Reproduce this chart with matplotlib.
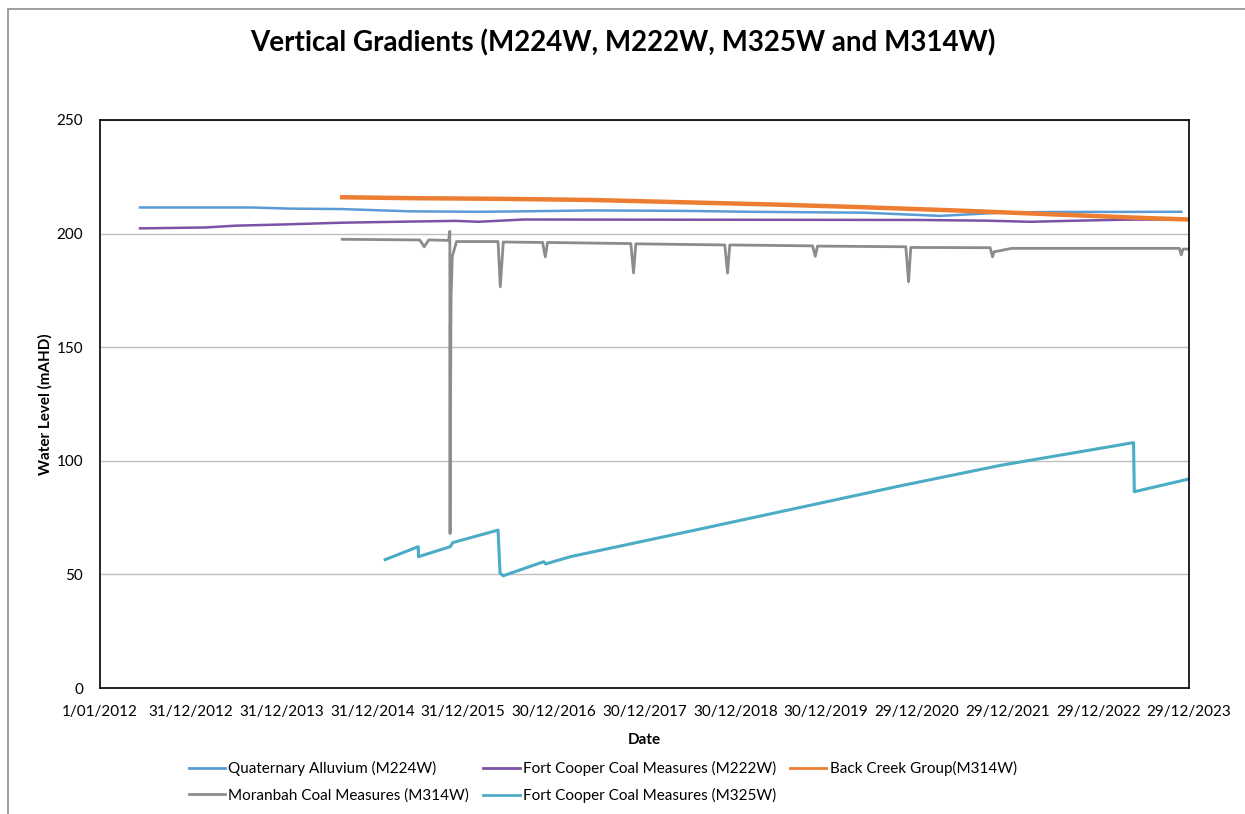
import matplotlib
matplotlib.use("Agg")
import matplotlib.pyplot as plt
import matplotlib.dates as mdates
import matplotlib.patches as patches
import pandas as pd
from matplotlib.ticker import FuncFormatter, MultipleLocator

plt.rcParams['font.family'] = ['Lato', 'DejaVu Sans']

# Quaternary Alluvium (M224W)
qa_dates = ["2012-06-10", "2013-09-01", "2014-02-01", "2014-09-01", "2015-06-01",
            "2016-03-01", "2016-09-01", "2017-06-01", "2018-06-01", "2019-03-01",
            "2020-06-01", "2021-04-01", "2021-12-01", "2022-06-01", "2023-11-28"]
qa_vals = [211.5, 211.5, 211.0, 210.8, 209.8, 209.6, 209.8, 210.2, 210.0, 209.6,
           209.2, 207.8, 209.2, 209.5, 209.6]

# Fort Cooper Coal Measures (M222W)
fc222_dates = ["2012-06-10", "2013-03-01", "2013-07-01", "2014-01-01", "2014-09-01",
               "2015-06-01", "2015-12-01", "2016-03-01", "2016-09-01", "2021-01-01",
               "2021-10-01", "2022-04-01", "2022-09-01", "2023-04-01", "2023-12-29"]
fc222_vals = [202.3, 202.7, 203.5, 204.0, 204.8, 205.3, 205.6, 205.2, 206.2, 206.0,
              205.7, 205.2, 205.6, 206.1, 206.3]

# Back Creek Group (M314W)
bc_dates = ["2014-09-01", "2015-06-01", "2016-06-01", "2017-06-01", "2018-06-01",
            "2019-06-01", "2020-06-01", "2021-06-01", "2022-06-01", "2023-06-01",
            "2023-12-29"]
bc_vals = [216.0, 215.6, 215.3, 214.8, 213.8, 212.8, 211.6, 210.2, 208.6, 207.0, 206.2]

# Moranbah Coal Measures (M314W)
mb_dates = ["2014-09-01", "2015-07-10", "2015-07-28", "2015-08-15", "2015-11-03",
            "2015-11-08", "2015-11-09", "2015-11-10", "2015-11-11", "2015-11-13",
            "2015-11-18", "2015-12-05", "2016-05-20", "2016-05-29", "2016-06-10",
            "2016-11-15", "2016-11-26", "2016-12-05", "2017-11-05", "2017-11-16",
            "2017-11-25", "2018-11-18", "2018-11-29", "2018-12-08", "2019-11-06",
            "2019-11-17", "2019-11-26", "2020-11-15", "2020-11-26", "2020-12-05",
            "2021-10-20", "2021-10-30", "2021-11-05", "2022-01-15", "2023-11-20",
            "2023-11-28", "2023-12-05", "2023-12-29"]
mb_vals = [197.5, 197.2, 194.2, 197.2, 197.0,
           201.0, 68.0, 160.0, 130.0, 172.0,
           190.0, 196.5, 196.5, 176.6, 196.3,
           196.1, 189.8, 196.1, 195.6, 182.7,
           195.5, 195.0, 182.6, 195.0, 194.6,
           190.0, 194.5, 194.2, 178.8, 193.9,
           193.8, 189.8, 192.0, 193.5, 193.5,
           190.6, 193.2, 193.2]

# Fort Cooper Coal Measures (M325W)
fc325_dates = ["2015-02-21", "2015-07-04", "2015-07-05", "2015-11-10", "2015-11-20",
               "2016-05-20", "2016-05-28", "2016-06-10", "2016-11-20", "2016-11-27",
               "2017-03-07", "2018-08-12", "2020-10-25", "2021-12-01", "2023-05-20",
               "2023-05-23", "2023-12-29"]
fc325_vals = [56.5, 62.2, 57.8, 62.2, 64.0,
              69.5, 50.5, 49.4, 55.6, 54.6,
              57.8, 70.0, 89.0, 98.0, 108.0,
              86.4, 92.0]

series = [
    ("Quaternary Alluvium (M224W)", qa_dates, qa_vals, "#5B9BD5", 1.8),
    ("Fort Cooper Coal Measures (M222W)", fc222_dates, fc222_vals, "#7A52A6", 1.8),
    ("Back Creek Group(M314W)", bc_dates, bc_vals, "#ED7D31", 3.2),
    ("Moranbah Coal Measures (M314W)", mb_dates, mb_vals, "#8C8C8C", 2.0),
    ("Fort Cooper Coal Measures (M325W)", fc325_dates, fc325_vals, "#4BACC6", 2.2),
]

fig = plt.figure(figsize=(12.45, 8.14), dpi=100)
ax = fig.add_axes([100 / 1245, 1 - 688 / 814, 1089 / 1245, 568 / 814])

lines = {}
for name, d, v, c, lw in series:
    (ln,) = ax.plot(pd.to_datetime(d), v, color=c, lw=lw, label=name)
    lines[name] = ln

start = pd.Timestamp("2012-01-01")
end = pd.Timestamp("2023-12-29")
ax.set_xlim(start, end)
ax.set_ylim(0, 250)
ticks = pd.date_range(start, end, freq="365D")
ax.set_xticks(ticks)
ax.xaxis.set_major_formatter(FuncFormatter(
    lambda x, p: (lambda d: f"{d.day}/{d.month:02d}/{d.year}")(mdates.num2date(x))))
ax.yaxis.set_major_locator(MultipleLocator(50))
ax.grid(axis="y", color="#BFBFBF", lw=1)
ax.set_axisbelow(True)
for s in ax.spines.values():
    s.set_color("black")
    s.set_linewidth(1.2)
ax.tick_params(length=0, labelsize=11, pad=12)

ax.set_xlabel("Date", fontsize=11, fontweight="bold", labelpad=10)
fig.text(45 / 1245, 1 - 404 / 814, "Water Level (mAHD)", rotation=90, fontsize=11,
         fontweight="bold", ha="center", va="center")
fig.text(0.5, 1 - 43 / 814, "Vertical Gradients (M224W, M222W, M325W and M314W)",
         fontsize=20, fontweight="bold", ha="center", va="center")

order = ["Quaternary Alluvium (M224W)", "Moranbah Coal Measures (M314W)",
         "Fort Cooper Coal Measures (M222W)", "Fort Cooper Coal Measures (M325W)",
         "Back Creek Group(M314W)"]
handles = [plt.Line2D([], [], color=lines[n].get_color(), lw=2) for n in order]
fig.legend(handles, order, ncol=3, loc="center left", frameon=False,
           bbox_to_anchor=(175 / 1245, 1 - 782 / 814), fontsize=11,
           handlelength=2.4, handletextpad=0.2, columnspacing=0.9, labelspacing=0.8)

fig.add_artist(patches.Rectangle((8 / 1245, -0.1), 1.0, 1 - 9 / 814 + 0.1,
                                 transform=fig.transFigure, fill=False,
                                 edgecolor="#8C8C8C", lw=1.2))

fig.savefig("out.png", dpi=100)
